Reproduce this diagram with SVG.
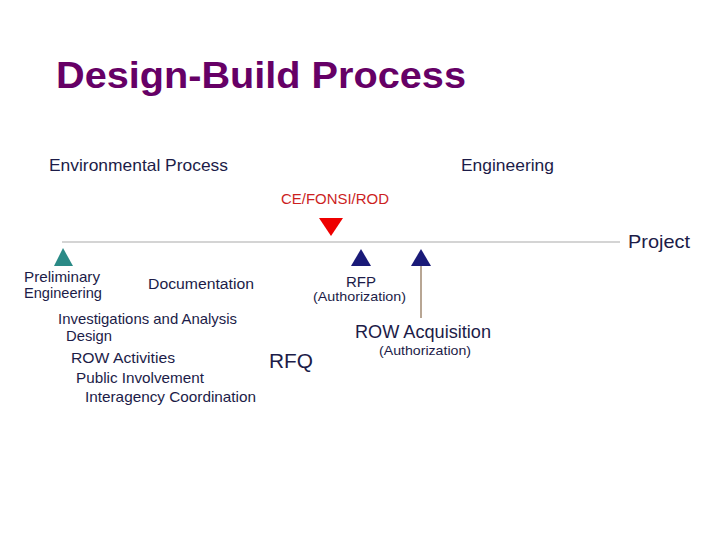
<svg xmlns="http://www.w3.org/2000/svg" width="720" height="540" viewBox="0 0 720 540">
<style>
.t{font-family:"Liberation Sans",Arial,sans-serif;fill:#1c1c48}
.s14{font-size:14.5px}
.s15{font-size:15.5px}
.s16{font-size:16.5px}
.s13{font-size:13.5px}
</style>
<rect width="720" height="540" fill="#fff"/>
<text x="56" y="88" font-family="Liberation Sans,Arial,sans-serif" font-weight="bold" font-size="37" fill="#660066" textLength="410" lengthAdjust="spacingAndGlyphs">Design-Build Process</text>
<g id="connectors">
<line x1="62" y1="242" x2="620" y2="242" stroke="#d4d4d4" stroke-width="2"/>
<line x1="421" y1="266" x2="421" y2="318" stroke="#a08870" stroke-width="1.5"/>
</g>
<g id="env"><text class="t s16" x="49" y="171" textLength="179" lengthAdjust="spacingAndGlyphs">Environmental Process</text></g>
<g id="eng"><text class="t s16" x="461" y="171" textLength="93" lengthAdjust="spacingAndGlyphs">Engineering</text></g>
<g id="cefonsi"><text x="281" y="204" font-family="Liberation Sans,Arial,sans-serif" font-size="15" fill="#cc1f1f" textLength="108" lengthAdjust="spacingAndGlyphs">CE/FONSI/ROD</text>
<polygon points="319,218 343,218 331,236" fill="#ee0000"/></g>
<g id="project"><text class="t" x="628" y="248" font-size="18.5" textLength="62" lengthAdjust="spacingAndGlyphs">Project</text></g>
<g id="prelim"><polygon points="63,248 54,266 73,266" fill="#2a8a86"/>
<text class="t s14" x="24" y="282" textLength="76" lengthAdjust="spacingAndGlyphs">Preliminary</text><text class="t s14" x="24" y="298" textLength="78" lengthAdjust="spacingAndGlyphs">Engineering</text></g>
<g id="doc"><text class="t s15" x="148" y="289" textLength="106" lengthAdjust="spacingAndGlyphs">Documentation</text></g>
<g id="rfp"><polygon points="361,249 351,266 371,266" fill="#1a1a78"/>
<text class="t s15" x="346" y="287" textLength="30" lengthAdjust="spacingAndGlyphs">RFP</text><text class="t s13" x="313" y="301" textLength="93" lengthAdjust="spacingAndGlyphs">(Authorization)</text></g>
<g id="row"><polygon points="421,249 411,266 431,266" fill="#1a1a78"/>
<text class="t" x="355" y="338" font-size="17.5" textLength="136" lengthAdjust="spacingAndGlyphs">ROW Acquisition</text><text class="t s13" x="379" y="355" textLength="92" lengthAdjust="spacingAndGlyphs">(Authorization)</text></g>
<g id="list">
<text class="t s14" x="58" y="324" textLength="179" lengthAdjust="spacingAndGlyphs">Investigations and Analysis</text>
<text class="t s14" x="66" y="341" textLength="46" lengthAdjust="spacingAndGlyphs">Design</text>
<text class="t s14" x="71" y="363" textLength="104" lengthAdjust="spacingAndGlyphs">ROW Activities</text>
<text class="t s14" x="76" y="383" textLength="128" lengthAdjust="spacingAndGlyphs">Public Involvement</text>
<text class="t s14" x="85" y="402" textLength="171" lengthAdjust="spacingAndGlyphs">Interagency Coordination</text>
</g>
<g id="rfq"><text class="t" x="269" y="368" font-size="21" textLength="44" lengthAdjust="spacingAndGlyphs">RFQ</text></g>
</svg>
